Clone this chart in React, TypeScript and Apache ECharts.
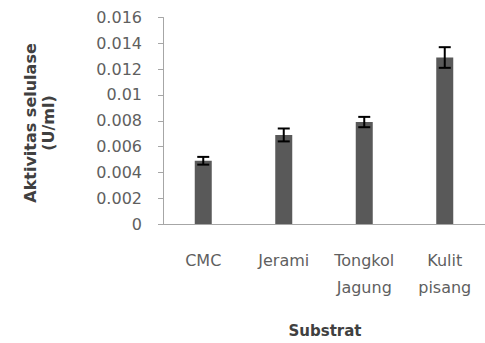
import React, { useEffect, useRef } from "react";
import * as echarts from "echarts";

const categories = ["CMC", "Jerami", "Tongkol\nJagung", "Kulit\npisang"];
const activity = [0.0049, 0.0069, 0.0079, 0.0129];
const errors = [0.0003, 0.0005, 0.0004, 0.0008];
const yTicks = { min: 0, max: 0.016, interval: 0.002 };
const yTitle = "Aktivitas selulase\n(U/ml)";
const xTitle = "Substrat";

export default function App() {
  const ref = useRef<HTMLDivElement>(null);
  useEffect(() => {
    if (!ref.current) return;
    const chart = echarts.init(ref.current, null, { renderer: "svg" });
    const errData = activity.map((v, i) => [i, v - errors[i], v + errors[i]]);
    chart.setOption({
      animation: false,
      textStyle: { fontFamily: "DejaVu Sans" },
      grid: { left: 163, right: 0, top: 17.5, bottom: 119, containLabel: false },
      xAxis: {
        type: "category",
        data: categories,
        axisLine: { lineStyle: { color: "#a6a6a6", width: 1 } },
        axisTick: { show: false },
        axisLabel: {
          color: "#5f5f5f",
          fontSize: 16,
          lineHeight: 27,
          margin: 23,
          fontFamily: "DejaVu Sans",
        },
      },
      yAxis: {
        type: "value",
        min: yTicks.min,
        max: yTicks.max,
        interval: yTicks.interval,
        splitLine: { show: false },
        axisLine: { show: true, lineStyle: { color: "#a6a6a6", width: 1 } },
        axisTick: { show: true, length: 5, inside: false, lineStyle: { color: "#a6a6a6" } },
        axisLabel: {
          color: "#5f5f5f",
          fontSize: 16,
          margin: 21,
          fontFamily: "DejaVu Sans",
          formatter: (v: number) => (v === 0 ? "0" : String(parseFloat(v.toFixed(4)))),
        },
      },
      series: [
        {
          type: "bar",
          data: activity,
          barWidth: 17,
          itemStyle: { color: "#595959" },
        },
        {
          type: "custom",
          data: errData,
          z: 10,
          renderItem: (params: any, api: any) => {
            const x = api.value(0);
            const lo = api.coord([x, api.value(1)]);
            const hi = api.coord([x, api.value(2)]);
            const hw = 6;
            const style = { stroke: "#000", lineWidth: 2 };
            return {
              type: "group",
              children: [
                { type: "line", shape: { x1: lo[0], y1: lo[1], x2: hi[0], y2: hi[1] }, style },
                { type: "line", shape: { x1: lo[0] - hw, y1: lo[1], x2: lo[0] + hw, y2: lo[1] }, style },
                { type: "line", shape: { x1: hi[0] - hw, y1: hi[1], x2: hi[0] + hw, y2: hi[1] }, style },
              ],
            };
          },
        },
      ],
      graphic: [
        {
          type: "text",
          x: 39.5,
          y: 123,
          rotation: Math.PI / 2,
          style: {
            text: yTitle,
            fill: "#404040",
            font: "bold 16px 'DejaVu Sans'",
            textAlign: "center",
            textVerticalAlign: "middle",
            lineHeight: 18,
          },
        },
        {
          type: "text",
          x: 325,
          y: 331,
          style: {
            text: xTitle,
            fill: "#404040",
            font: "bold 15px 'DejaVu Sans'",
            textAlign: "center",
            textVerticalAlign: "middle",
          },
        },
      ],
    });
    return () => chart.dispose();
  }, []);
  return <div ref={ref} style={{ width: 485, height: 343, position: "absolute", left: 0, top: 0 }} />;
}
